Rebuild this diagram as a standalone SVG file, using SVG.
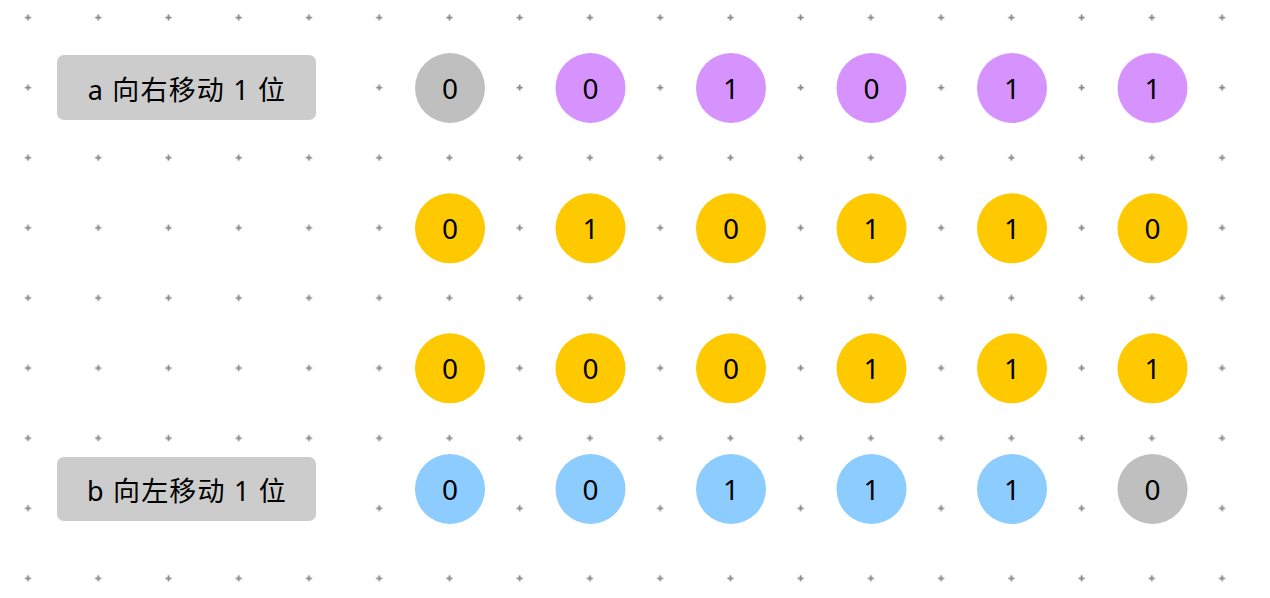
<svg xmlns="http://www.w3.org/2000/svg" xmlns:xlink="http://www.w3.org/1999/xlink" width="1270" height="598" viewBox="0 0 1270 598">
<style>
.lbl{font-family:"Noto Sans","Noto Sans CJK SC",sans-serif;font-size:27px;fill:#000;text-anchor:middle;letter-spacing:1.2px}
.num{font-family:"Noto Sans",sans-serif;font-size:28px;fill:#000;text-anchor:middle}
.box{fill:#cccccc}
.g{fill:#bfbfbf}.p{fill:#d693fd}.y{fill:#ffc900}.b{fill:#8dccfe}
</style>
<defs>
<path id="d" d="M-3,0H3M0,-3V3" stroke="#888" stroke-width="1.8" fill="none"/>
<pattern id="grid" x="-7.2" y="-17.6" width="70.24" height="70.1" patternUnits="userSpaceOnUse">
<use xlink:href="#d" x="35.2" y="35.1"/>
</pattern>
</defs>
<rect width="1270" height="598" fill="#fff"/>
<rect id="dots" width="1270" height="598" fill="url(#grid)"/>
<g id="connectors"/>
<g id="label-a"><rect class="box" x="57" y="55" width="259" height="65" rx="7"/><text class="lbl" x="187" y="99.5">a 向右移动 1 位</text></g>
<g id="label-b"><rect class="box" x="57" y="457" width="259" height="64" rx="7"/><text class="lbl" x="187" y="500.5">b 向左移动 1 位</text></g>
<g id="row1">
<g id="r1c1"><circle class="g" cx="450" cy="88" r="35"/><text class="num" x="450" y="99">0</text></g>
<g id="r1c2"><circle class="p" cx="590.5" cy="88" r="35"/><text class="num" x="590.5" y="99">0</text></g>
<g id="r1c3"><circle class="p" cx="731" cy="88" r="35"/><text class="num" x="731" y="99">1</text></g>
<g id="r1c4"><circle class="p" cx="871.5" cy="88" r="35"/><text class="num" x="871.5" y="99">0</text></g>
<g id="r1c5"><circle class="p" cx="1012" cy="88" r="35"/><text class="num" x="1012" y="99">1</text></g>
<g id="r1c6"><circle class="p" cx="1152.5" cy="88" r="35"/><text class="num" x="1152.5" y="99">1</text></g>
</g>
<g id="row2">
<g id="r2c1"><circle class="y" cx="450" cy="228.3" r="35"/><text class="num" x="450" y="239.3">0</text></g>
<g id="r2c2"><circle class="y" cx="590.5" cy="228.3" r="35"/><text class="num" x="590.5" y="239.3">1</text></g>
<g id="r2c3"><circle class="y" cx="731" cy="228.3" r="35"/><text class="num" x="731" y="239.3">0</text></g>
<g id="r2c4"><circle class="y" cx="871.5" cy="228.3" r="35"/><text class="num" x="871.5" y="239.3">1</text></g>
<g id="r2c5"><circle class="y" cx="1012" cy="228.3" r="35"/><text class="num" x="1012" y="239.3">1</text></g>
<g id="r2c6"><circle class="y" cx="1152.5" cy="228.3" r="35"/><text class="num" x="1152.5" y="239.3">0</text></g>
</g>
<g id="row3">
<g id="r3c1"><circle class="y" cx="450" cy="368.3" r="35"/><text class="num" x="450" y="379.3">0</text></g>
<g id="r3c2"><circle class="y" cx="590.5" cy="368.3" r="35"/><text class="num" x="590.5" y="379.3">0</text></g>
<g id="r3c3"><circle class="y" cx="731" cy="368.3" r="35"/><text class="num" x="731" y="379.3">0</text></g>
<g id="r3c4"><circle class="y" cx="871.5" cy="368.3" r="35"/><text class="num" x="871.5" y="379.3">1</text></g>
<g id="r3c5"><circle class="y" cx="1012" cy="368.3" r="35"/><text class="num" x="1012" y="379.3">1</text></g>
<g id="r3c6"><circle class="y" cx="1152.5" cy="368.3" r="35"/><text class="num" x="1152.5" y="379.3">1</text></g>
</g>
<g id="row4">
<g id="r4c1"><circle class="b" cx="450" cy="489" r="35"/><text class="num" x="450" y="500">0</text></g>
<g id="r4c2"><circle class="b" cx="590.5" cy="489" r="35"/><text class="num" x="590.5" y="500">0</text></g>
<g id="r4c3"><circle class="b" cx="731" cy="489" r="35"/><text class="num" x="731" y="500">1</text></g>
<g id="r4c4"><circle class="b" cx="871.5" cy="489" r="35"/><text class="num" x="871.5" y="500">1</text></g>
<g id="r4c5"><circle class="b" cx="1012" cy="489" r="35"/><text class="num" x="1012" y="500">1</text></g>
<g id="r4c6"><circle class="g" cx="1152.5" cy="489" r="35"/><text class="num" x="1152.5" y="500">0</text></g>
</g>
</svg>
